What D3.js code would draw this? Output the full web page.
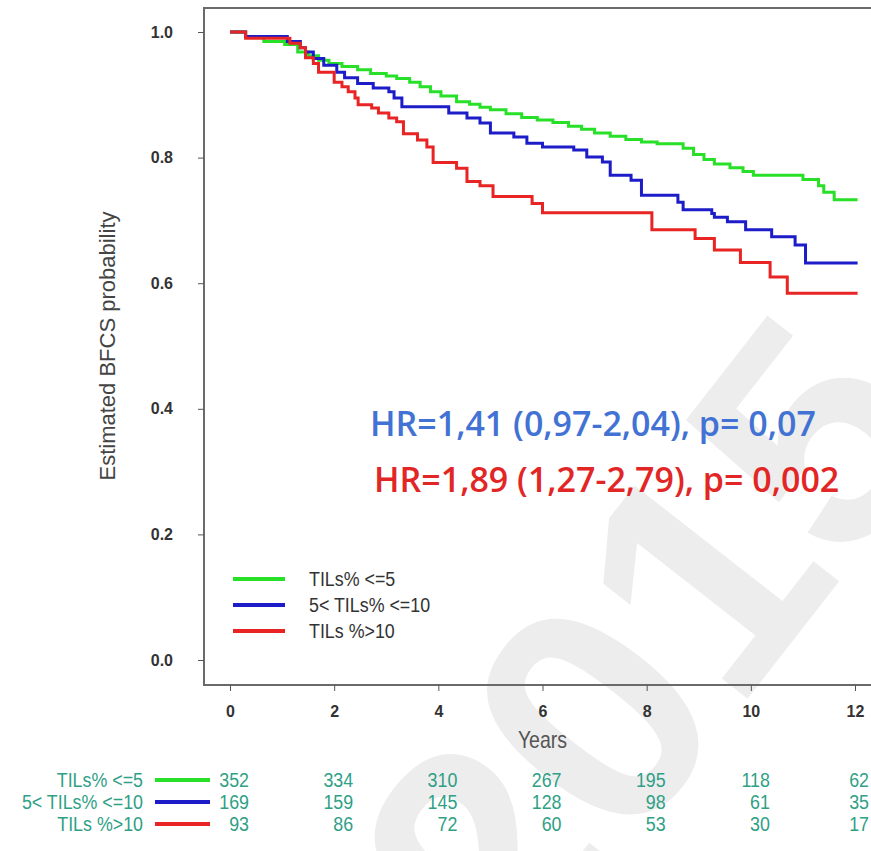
<!DOCTYPE html>
<html>
<head>
<meta charset="utf-8">
<title>BFCS by TILs</title>
<style>
	body {
		margin: 0;
		background: #fff;
		font-family: "Liberation Sans", Arial, sans-serif;
	}
	.tick line { stroke: #555; }
	.domain { display: none; }
</style>
</head>
<body>
<div id="vis"></div>
<script src="https://d3js.org/d3.v7.min.js"></script>
<script>
	// ---- data ----
	var yearTicks = [0, 2, 4, 6, 8, 10, 12];
	var probTicks = [0, 0.2, 0.4, 0.6, 0.8, 1.0];
	var groupLabels = ["TILs% <=5", "5< TILs% <=10", "TILs %>10"];

	// [years, estimated BFCS probability]
	var survLow = [[0,1],[0.3,0.993],[0.65,0.985],[1.05,0.98],[1.3,0.968],[1.5,0.962],[1.7,0.955],[1.9,0.95],
		[2.15,0.945],[2.45,0.94],[2.7,0.934],[3.0,0.93],[3.2,0.926],[3.45,0.92],[3.65,0.913],[3.85,0.905],
		[4.05,0.898],[4.35,0.889],[4.6,0.885],[4.8,0.88],[5.0,0.876],[5.3,0.87],[5.6,0.864],[5.9,0.86],
		[6.2,0.856],[6.5,0.85],[6.75,0.845],[7.0,0.839],[7.3,0.834],[7.6,0.829],[7.9,0.825],[8.2,0.822],
		[8.7,0.815],[8.9,0.805],[9.1,0.797],[9.3,0.79],[9.6,0.784],[9.85,0.778],[10.05,0.772],[11.0,0.765],
		[11.3,0.755],[11.4,0.745],[11.6,0.733],[12.05,0.733]];
	var survMid = [[0,1],[0.3,0.993],[1.1,0.985],[1.35,0.975],[1.45,0.968],[1.6,0.958],[1.8,0.947],[2.05,0.936],
		[2.2,0.927],[2.45,0.918],[2.75,0.911],[3.05,0.905],[3.15,0.895],[3.3,0.881],[4.2,0.871],[4.55,0.863],
		[4.8,0.855],[5.0,0.839],[5.45,0.833],[5.7,0.823],[6.0,0.817],[6.6,0.812],[6.85,0.801],[7.15,0.793],
		[7.3,0.772],[7.7,0.764],[7.9,0.740],[8.6,0.729],[8.7,0.717],[9.25,0.711],[9.3,0.705],[9.55,0.698],
		[9.9,0.685],[10.4,0.674],[10.85,0.661],[11.05,0.632],[12.05,0.632]];
	var survHigh = [[0,1],[0.3,0.99],[1.15,0.982],[1.35,0.975],[1.45,0.959],[1.6,0.95],[1.7,0.936],[2.0,0.92],
		[2.15,0.913],[2.27,0.905],[2.4,0.895],[2.46,0.884],[2.72,0.879],[2.85,0.871],[3.05,0.863],[3.2,0.857],
		[3.33,0.838],[3.6,0.828],[3.78,0.817],[3.9,0.792],[4.35,0.783],[4.55,0.762],[4.8,0.755],[5.05,0.738],
		[5.8,0.727],[6.0,0.712],[8.1,0.685],[8.93,0.671],[9.3,0.653],[9.8,0.633],[10.37,0.61],[10.7,0.584],
		[12.05,0.584]];

	// numbers at risk, one per year tick
	var riskLow = [352, 334, 310, 267, 195, 118, 62];
	var riskMid = [169, 159, 145, 128, 98, 61, 35];
	var riskHigh = [93, 86, 72, 60, 53, 30, 17];

	var hrLines = ["HR=1,41 (0,97-2,04), p= 0,07", "HR=1,89 (1,27-2,79), p= 0,002"];

	// ---- styling ----
	var colors = ["#28e028", "#1c1cc8", "#e82424"];
	var hrColors = ["#4272d4", "#e22626"];
	var sans = '"Liberation Sans", Arial, sans-serif';
	var squeeze = " scale(0.85,1)";   // no narrow face installed, so squeeze the regular one

	var W = 871, H = 851;
	var svg = d3.select("#vis").append("svg")
		.attr("width", W)
		.attr("height", H);

	var x = d3.scaleLinear().domain([0, 12]).range([230, 855]);
	var y = d3.scaleLinear().domain([0, 1]).range([660, 32]);

	// watermark behind everything
	svg.append("text")
		.attr("transform", "translate(516,995) rotate(-52)")
		.style("font-family", sans)
		.style("font-weight", "bold")
		.style("font-size", "320px")
		.style("fill", "#ededed")
		.text("2015");

	// plot frame (right side runs off the picture)
	svg.append("rect")
		.attr("x", 204).attr("y", 8)
		.attr("width", 720).attr("height", 677)
		.attr("fill", "none")
		.attr("stroke", "#6a6a6a")
		.attr("stroke-width", 2);

	// y axis
	var yAxis = svg.append("g")
		.attr("transform", "translate(204,0)")
		.call(d3.axisLeft(y).tickValues(probTicks).tickFormat(d3.format(".1f")).tickSize(6).tickPadding(25));
	yAxis.selectAll("text")
		.style("font-size", "16px").style("font-weight", "bold").style("fill", "#333")
		.style("font-family", sans);

	// x axis
	var xAxis = svg.append("g")
		.attr("transform", "translate(0,685)")
		.call(d3.axisBottom(x).tickValues(yearTicks).tickFormat(d3.format("d")).tickSize(6).tickPadding(15));
	xAxis.selectAll("text")
		.style("font-size", "16px").style("font-weight", "bold").style("fill", "#333")
		.style("font-family", sans);

	svg.append("text")
		.attr("transform", "translate(" + x(6) + ",748)" + squeeze)
		.attr("text-anchor", "middle")
		.style("font-family", sans).style("font-size", "23px").style("fill", "#555")
		.text("Years");

	svg.append("text")
		.attr("transform", "translate(115,346) rotate(-90)")
		.attr("text-anchor", "middle")
		.style("font-family", sans)
		.style("font-size", "22px").style("fill", "#444")
		.text("Estimated BFCS probability");

	// KM curves
	var line = d3.line()
		.x(function(d) { return x(d[0]); })
		.y(function(d) { return y(d[1]); })
		.curve(d3.curveStepAfter);

	var curves = [survLow, survMid, survHigh];
	svg.selectAll(".km")
		.data(curves)
	  .enter().append("path")
		.attr("class", "km")
		.attr("d", line)
		.attr("fill", "none")
		.attr("stroke", function(d, i) { return colors[i]; })
		.attr("stroke-width", 3);

	// HR annotations
	svg.selectAll(".hr")
		.data(hrLines)
	  .enter().append("text")
		.attr("class", "hr")
		.attr("x", function(d, i) { return i == 0 ? 370 : 374; })
		.attr("y", function(d, i) { return 436 + i * 56; })
		.style("font-family", '"Open Sans", sans-serif')
		.style("font-weight", "600")
		.style("font-size", "34px")
		.style("fill", function(d, i) { return hrColors[i]; })
		.text(function(d) { return d; });

	// legend inside plot
	var legendY = [579, 605, 631];
	var leg = svg.selectAll(".leg")
		.data(groupLabels)
	  .enter().append("g")
		.attr("class", "leg")
		.attr("transform", function(d, i) { return "translate(0," + legendY[i] + ")"; });
	leg.append("line")
		.attr("x1", 233).attr("x2", 285)
		.attr("stroke", function(d, i) { return colors[i]; })
		.attr("stroke-width", 4);
	leg.append("text")
		.attr("transform", "translate(309,0)" + squeeze)
		.attr("dy", "0.35em")
		.style("font-family", sans).style("font-size", "21px").style("fill", "#333")
		.text(function(d) { return d; });

	// numbers at risk table
	var riskRows = [riskLow, riskMid, riskHigh];
	var rowY = [780, 802, 824];
	var teal = "#2f9f86";
	var row = svg.selectAll(".risk")
		.data(riskRows)
	  .enter().append("g")
		.attr("class", "risk")
		.attr("transform", function(d, i) { return "translate(0," + rowY[i] + ")"; });
	row.append("text")
		.attr("transform", "translate(143,0)" + squeeze)
		.attr("dy", "0.35em")
		.attr("text-anchor", "end")
		.style("font-family", sans).style("font-size", "21px").style("fill", teal)
		.text(function(d, i) { return groupLabels[i]; });
	row.append("line")
		.attr("x1", 155).attr("x2", 210)
		.attr("stroke", function(d, i) { return colors[i]; })
		.attr("stroke-width", 4);
	row.selectAll(".n")
		.data(function(d) { return d; })
	  .enter().append("text")
		.attr("class", "n")
		.attr("transform", function(d, j) {
			return "translate(" + Math.min(x(yearTicks[j]) + 19, 869) + ",0)" + squeeze;
		})
		.attr("dy", "0.35em")
		.attr("text-anchor", "end")
		.style("font-family", sans).style("font-size", "21px").style("fill", teal)
		.text(function(d) { return d; });
</script>
</body>
</html>
